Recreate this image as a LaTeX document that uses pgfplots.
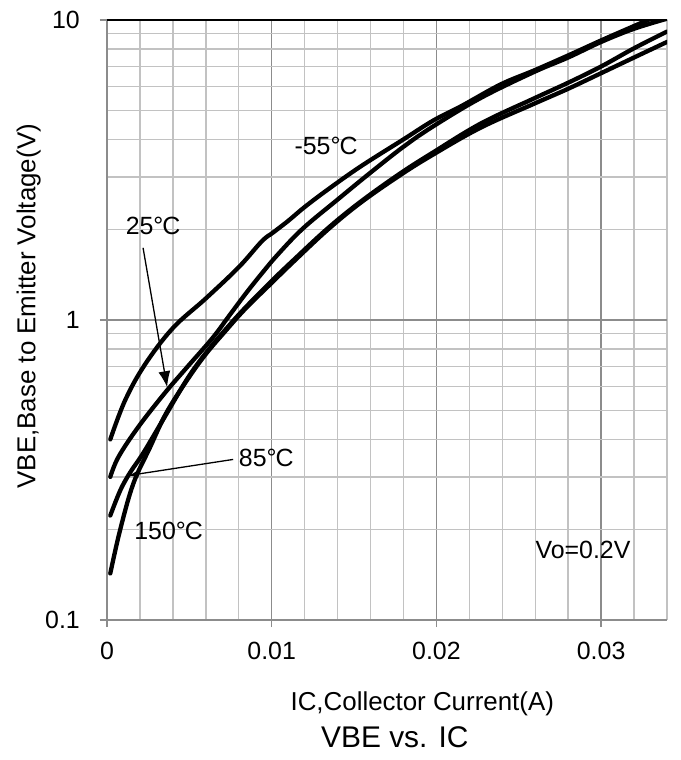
\documentclass[border=0pt]{standalone}
\usepackage{fontspec}
\setmainfont{Liberation Sans}
\usepackage{pgfplots}
\pgfplotsset{compat=1.18}
\usetikzlibrary{arrows.meta}

\definecolor{gridmaj}{HTML}{8C8C8C}
\definecolor{gridmin}{HTML}{C2C2C2}

\newcommand{\degC}{°\kern-0.04em C}

\begin{document}
\begin{tikzpicture}
\path[use as bounding box] (-107bp,-140bp) rectangle (574bp,620bp);
\begin{axis}[
    at={(0,0)}, anchor=south west,
    scale only axis,
    width=560bp, height=600bp,
    ymode=log,
    xmin=0, xmax=0.034,
    ymin=0.1, ymax=10,
    scaled x ticks=false,
    xtick={0,0.01,0.02,0.03},
    xticklabels={0,0.01,0.02,0.03},
    minor xtick={0.002,0.004,0.006,0.008,0.012,0.014,0.016,0.018,0.022,0.024,0.026,0.028,0.032,0.034},
    ytick={0.1,1,10},
    yticklabels={0.1,1,10},
    minor ytick={0.2,0.3,0.4,0.5,0.6,0.7,0.8,0.9,2,3,4,5,6,7,8,9},
    grid=both,
    major grid style={gridmaj, line width=1.4bp},
    minor grid style={gridmin, line width=1.4bp},
    axis lines=left,
    axis line style={-, gridmaj, line width=1.5bp},
    tick align=outside,
    major tick length=7bp,
    minor tick length=0pt,
    tick style={gridmaj, line width=1.4bp},
    every tick label/.append style={font=\fontsize{25}{30}\selectfont},
    xticklabel style={anchor=north, inner sep=0pt, yshift=-15bp},
    yticklabel style={anchor=east, inner sep=0pt, xshift=-20bp},
    xlabel={IC,Collector Current(A)},
    ylabel={VBE,Base to Emitter Voltage(V)},
    title={VBE vs. IC},
    xlabel style={font=\fontsize{26}{30}\selectfont, at={(axis description cs:0.563,-0.15)}, anchor=base},
    ylabel style={font=\fontsize{26}{30}\selectfont, at={(axis description cs:-0.14,0.523)}, anchor=center},
    title style={font=\fontsize{30}{36}\selectfont, at={(axis description cs:0.514,-0.223)}, anchor=base},
    clip=true,
]

% -55 C
\addplot[black, line width=4.3bp, line cap=round, line join=round, smooth, tension=0.6] coordinates {
    (0.0002,0.40) (0.0011,0.54) (0.0023,0.71) (0.0040,0.94) (0.0060,1.18)
    (0.0080,1.50) (0.0094,1.83) (0.0101,1.96) (0.0110,2.14) (0.0120,2.38)
    (0.0134,2.72) (0.0154,3.25) (0.0180,4.00) (0.0198,4.62) (0.0215,5.16)
    (0.0239,6.10) (0.0259,6.78) (0.0280,7.62) (0.0300,8.55) (0.0320,9.55)
    (0.0332,10.2)
};

% 25 C
\addplot[black, line width=4.3bp, line cap=round, line join=round, smooth, tension=0.6] coordinates {
    (0.0002,0.30) (0.0007,0.35) (0.0019,0.44) (0.0035,0.57) (0.0049,0.70)
    (0.0064,0.87) (0.0074,1.03) (0.0084,1.22) (0.0094,1.43) (0.0104,1.66)
    (0.0119,2.02) (0.0140,2.52) (0.0160,3.10) (0.0180,3.78) (0.0198,4.42)
    (0.0227,5.50) (0.0259,6.70) (0.0280,7.50) (0.0300,8.45) (0.0320,9.35)
    (0.0340,10.1)
};

% 85 C
\addplot[black, line width=4.3bp, line cap=round, line join=round, smooth, tension=0.6] coordinates {
    (0.0002,0.223) (0.0008,0.27) (0.0014,0.31) (0.0022,0.36) (0.0035,0.475)
    (0.0049,0.64) (0.0060,0.776) (0.0072,0.93) (0.0084,1.10) (0.0100,1.35)
    (0.0113,1.58) (0.0134,2.02) (0.0154,2.48) (0.0178,3.08) (0.0198,3.62)
    (0.0227,4.52) (0.0259,5.47) (0.0280,6.18) (0.0300,7.00) (0.0320,8.05)
    (0.0340,9.15)
};

% 150 C
\addplot[black, line width=4.3bp, line cap=round, line join=round, smooth, tension=0.6] coordinates {
    (0.0002,0.143) (0.0008,0.20) (0.0016,0.285) (0.0026,0.375) (0.0036,0.49)
    (0.0049,0.635) (0.0060,0.77) (0.0072,0.92) (0.0084,1.09) (0.0100,1.33)
    (0.0113,1.56) (0.0134,2.00) (0.0154,2.46) (0.0178,3.04) (0.0198,3.56)
    (0.0227,4.38) (0.0259,5.25) (0.0280,5.90) (0.0300,6.65) (0.0320,7.50)
    (0.0340,8.45)
};

% top border
\draw[black, line width=1.5bp] (rel axis cs:0,1) -- (rel axis cs:1,1);

% annotations
\node[font=\fontsize{25}{30}\selectfont, inner sep=0pt] at (axis cs:0.0133,3.79) {-55\degC};
\node[font=\fontsize{25}{30}\selectfont, inner sep=0pt] at (axis cs:0.0028,2.06) {25\degC};
\node[font=\fontsize{25}{30}\selectfont, inner sep=0pt] at (axis cs:0.00967,0.348) {85\degC};
\node[font=\fontsize{25}{30}\selectfont, inner sep=0pt] at (axis cs:0.00374,0.198) {150\degC};
\node[font=\fontsize{25}{30}\selectfont, inner sep=0pt] at (axis cs:0.0289,0.171) {Vo=0.2V};
\draw[black, line width=1.3bp, -{Latex[length=16bp,width=12bp]}] (axis cs:0.00219,1.74) -- (axis cs:0.00365,0.597);
\draw[black, line width=1.3bp, -{Latex[length=10bp,width=7bp]}] (axis cs:0.00766,0.343) -- (axis cs:0.00128,0.303);

\end{axis}
\end{tikzpicture}
\end{document}
